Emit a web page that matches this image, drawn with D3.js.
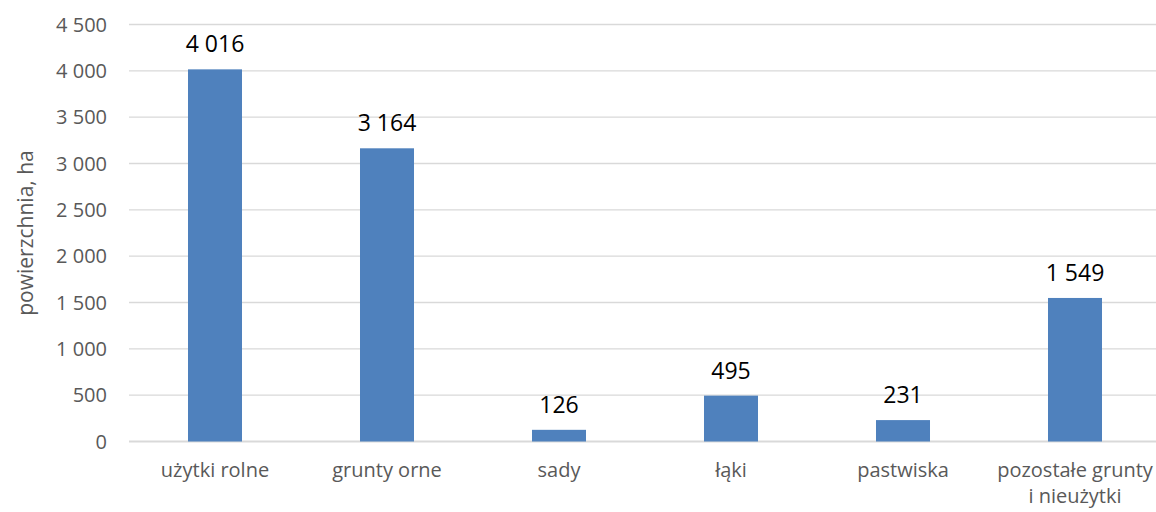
<!DOCTYPE html>
<html><head><meta charset="utf-8">
<script src="https://cdn.jsdelivr.net/npm/d3@7"></script>
<style>body{margin:0;background:#fff;} svg{display:block;font-family:"Open Sans","Noto Sans",sans-serif;}</style>
</head><body>
<svg id="c" width="1156" height="512"></svg>
<script>
const categories = [["użytki rolne"],["grunty orne"],["sady"],["łąki"],["pastwiska"],["pozostałe grunty","i nieużytki"]];
const values = [4016, 3164, 126, 495, 231, 1549];
const yTicks = [0,500,1000,1500,2000,2500,3000,3500,4000,4500];
const yTitle = "powierzchnia, ha";

(function(){
const svg = d3.select("#c");
const mL = 129, mR = 1161, mT = 24.5, mB = 441.5;
const x = d3.scaleBand().domain(d3.range(values.length)).range([mL, mR]).paddingInner(0.686).paddingOuter(0.343);
const y = d3.scaleLinear().domain([0,4500]).range([mB, mT]);
const fmt = v => d3.format(",")(v).replace(/,/g, " ");

svg.append("g").selectAll("line").data(yTicks).join("line")
  .attr("x1", mL).attr("x2", 1156)
  .attr("y1", d => y(d)).attr("y2", d => y(d))
  .attr("stroke", "#d9d9d9").attr("stroke-width", d => d===0?1.8:1.3);

svg.append("g").selectAll("text").data(yTicks).join("text")
  .attr("x", 107).attr("y", d => y(d)).attr("dy", "0.36em")
  .attr("text-anchor", "end").attr("fill", "#595959").attr("font-size", 20)
  .text(fmt);

svg.append("g").selectAll("rect").data(values).join("rect")
  .attr("x", (d,i) => x(i)).attr("width", x.bandwidth())
  .attr("y", d => y(d)).attr("height", d => y(0) - y(d))
  .attr("fill", "#4f81bd");

svg.append("g").selectAll("text").data(values).join("text")
  .attr("x", (d,i) => x(i) + x.bandwidth()/2).attr("y", d => y(d) - 17)
  .attr("text-anchor", "middle").attr("fill", "#000").attr("font-size", 23)
  .text(fmt);

const cg = svg.append("g").selectAll("text").data(categories).join("text")
  .attr("text-anchor", "middle").attr("fill", "#595959").attr("font-size", 20)
  .attr("x", (d,i) => x(i) + x.bandwidth()/2).attr("y", 477);
cg.selectAll("tspan").data(d => d).join("tspan")
  .attr("x", function(){ return this.parentNode.getAttribute("x"); })
  .attr("dy", (d,i) => i===0?0:26).text(d => d);

svg.append("text").attr("transform", "translate(33,233) rotate(-90)")
  .attr("text-anchor", "middle").attr("fill", "#595959").attr("font-size", 21)
  .text(yTitle);
})();
</script>
</body></html>
